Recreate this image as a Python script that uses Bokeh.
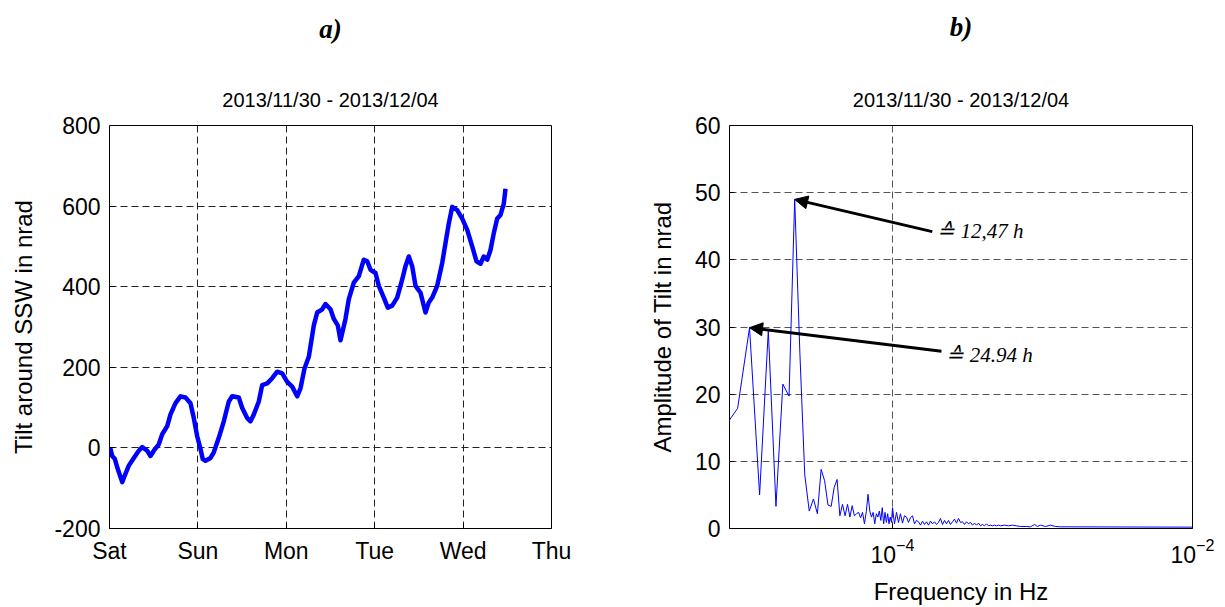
from bokeh.plotting import figure
from bokeh.layouts import row
from bokeh.models import FixedTicker, Title, Arrow, NormalHead, Label, Range1d
from bokeh.embed import file_html
from bokeh.resources import INLINE

# ---- (a) tilt time series, hours since Saturday 00:00 ----
hours = [0.2, 0.73, 1.44, 2.09, 3.45, 4.34, 5.24, 6.60, 7.95, 8.88, 10.24, 11.13,
         12.03, 13.38, 14.31, 15.67, 16.56, 17.92, 19.28, 20.63, 21.99, 22.89,
         23.81, 24.71, 25.33, 26.06, 27.42, 28.32, 29.67, 31.03, 32.39, 33.31,
         35.10, 36.03, 37.38, 38.28, 39.18, 40.53, 41.46, 42.82, 44.17, 45.53,
         46.89, 48.25, 49.60, 50.96, 51.86, 52.94, 54.11, 55.47, 56.39, 57.75,
         58.64, 60.00, 60.90, 61.98, 62.72, 64.07, 64.97, 66.33, 67.69, 69.04,
         69.97, 70.86, 72.22, 73.11, 74.47, 75.56, 76.75, 78.11, 79.47, 80.36,
         81.26, 82.18, 83.08, 84.44, 85.33, 85.79, 86.69, 87.61, 88.97, 90.33,
         91.22, 92.12, 93.04, 94.40, 95.76, 97.12, 98.47, 99.64, 100.73, 101.62,
         102.55, 103.44, 104.34, 105.26, 106.16, 107.05, 107.51]
tilt_nrad = [0, -20, -27, -48, -85, -64, -44, -25, -7, 2, -7, -20,
             -7, 9, 34, 54, 83, 111, 128, 125, 111, 74,
             29, -3, -28, -32, -25, -11, 25, 66, 115, 128,
             125, 99, 74, 66, 83, 115, 156, 160, 173, 189,
             185, 164, 152, 128, 148, 197, 226, 304, 336, 344,
             357, 344, 320, 304, 267, 320, 369, 410, 426, 467,
             463, 442, 434, 402, 373, 348, 353, 373, 418, 451,
             475, 451, 402, 385, 353, 336, 361, 373, 402, 459,
             508, 557, 598, 590, 569, 541, 500, 463, 457, 475,
             467, 491, 533, 569, 578, 606, 643]
day_ticks_h = [0, 24, 48, 72, 96, 120]
day_names = ["Sat", "Sun", "Mon", "Tue", "Wed", "Thu"]
tilt_ticks = [-200, 0, 200, 400, 600, 800]

# ---- (b) amplitude spectrum ----
freq_hz = [7.43e-6, 9.28e-6, 1.114e-5, 1.300e-5, 1.486e-5, 1.671e-5, 1.857e-5,
           2.043e-5, 2.228e-5, 2.414e-5, 2.600e-5, 2.786e-5, 2.971e-5, 3.157e-5,
           3.343e-5, 3.528e-5, 3.714e-5, 3.900e-5, 4.085e-5, 4.271e-5, 4.457e-5,
           4.642e-5, 4.828e-5, 5.014e-5, 5.200e-5, 5.385e-5, 5.571e-5, 5.757e-5,
           5.942e-5, 6.128e-5, 6.314e-5, 6.500e-5, 6.685e-5, 6.871e-5, 7.057e-5,
           7.242e-5, 7.428e-5, 7.614e-5, 7.800e-5, 7.985e-5, 8.171e-5, 8.357e-5,
           8.542e-5, 8.728e-5, 8.914e-5, 9.100e-5, 9.285e-5, 9.471e-5, 9.657e-5,
           9.842e-5,
           1.000e-4, 1.031e-4, 1.063e-4, 1.096e-4, 1.130e-4, 1.166e-4, 1.202e-4,
           1.240e-4, 1.278e-4, 1.318e-4, 1.359e-4, 1.402e-4, 1.445e-4, 1.490e-4,
           1.537e-4, 1.585e-4, 1.634e-4, 1.685e-4, 1.738e-4, 1.792e-4, 1.848e-4,
           1.905e-4, 1.965e-4, 2.026e-4, 2.089e-4, 2.154e-4, 2.222e-4, 2.291e-4,
           2.362e-4, 2.436e-4, 2.512e-4, 2.590e-4, 2.671e-4, 2.754e-4, 2.840e-4,
           2.929e-4, 3.020e-4, 3.114e-4, 3.211e-4, 3.311e-4, 3.415e-4, 3.521e-4,
           3.631e-4, 3.744e-4, 3.861e-4, 3.981e-4, 4.105e-4, 4.233e-4, 4.365e-4,
           4.501e-4, 4.642e-4, 4.786e-4, 4.935e-4, 5.089e-4, 5.248e-4, 5.580e-4,
           5.934e-4, 6.310e-4, 6.709e-4, 7.135e-4, 7.824e-4, 8.318e-4, 8.845e-4,
           9.261e-4, 9.698e-4, 1.047e-3, 1.130e-3, 1.221e-3, 1.318e-3, 1.0e-2]
amp_nrad = [14.8, 17.9, 29.9, 5.0, 29.5, 3.3, 21.5,
            19.7, 49.0, 26.0, 8.0, 2.6, 4.4, 2.2,
            8.8, 7.1, 3.5, 3.3, 6.1, 7.3, 1.9,
            3.6, 1.9, 3.6, 1.7, 3.4, 1.9, 2.2,
            2.4, 1.6, 2.4, 0.7, 2.5, 5.1, 2.6,
            1.7, 2.4, 0.7, 2.2, 1.7, 2.6, 1.2,
            3.1, 0.7, 2.4, 0.9, 2.2, 0.7, 1.7,
            0.9,
            3.1, 0.7, 2.4, 0.9, 2.2, 0.8, 1.9,
            1.7, 0.9, 1.6, 1.9, 0.7, 1.2, 1.0,
            0.5, 1.1, 0.6, 1.0, 0.5, 1.1, 0.7,
            1.0, 0.6, 0.9, 1.5, 0.6, 1.2, 0.7,
            1.2, 0.6, 1.0, 1.4, 0.8, 1.5, 0.9,
            1.0, 0.6, 1.0, 0.7, 0.9, 0.5, 0.8,
            0.5, 0.8, 0.4, 0.6, 0.4, 0.7, 0.4,
            0.5, 0.4, 0.5, 0.4, 0.5, 0.4, 0.5,
            0.4, 0.5, 0.4, 0.3, 0.3, 0.25, 0.6,
            0.3, 0.5, 0.3, 0.5, 0.3, 0.25, 0.2]
amp_ticks = [0, 10, 20, 30, 40, 50, 60]
peak_period_h = [24.94, 12.47]
peak_labels = ["\u2259 24.94 h", "\u2259 12,47 h"]
freq_ticks = [1e-4, 1e-2]

SANS = "Liberation Sans"
SERIF = "Liberation Serif"
GRID_DASH = "7 4"
DATE_TITLE = "2013/11/30 - 2013/12/04"


def style(p, grid_color, letter, gap, letter_offset=0):
    p.outline_line_color = "black"
    p.outline_line_width = 1
    p.background_fill_color = "white"
    p.border_fill_color = "white"
    for ax in (p.xaxis[0], p.yaxis[0]):
        ax.axis_line_color = None
        ax.major_tick_in = 5
        ax.major_tick_out = 0
        ax.minor_tick_in = 0
        ax.minor_tick_out = 0
        ax.major_tick_line_color = "black"
        ax.major_label_text_font = SANS
        ax.major_label_text_font_size = "23px"
        ax.major_label_text_color = "black"
        ax.axis_label_text_font = SANS
        ax.axis_label_text_font_size = "24px"
        ax.axis_label_text_font_style = "normal"
        ax.axis_label_text_color = "black"
    p.xaxis.major_label_standoff = 9
    p.yaxis.major_label_standoff = 9
    for g in (p.xgrid[0], p.ygrid[0]):
        g.grid_line_color = grid_color
        g.grid_line_dash = GRID_DASH
        g.grid_line_width = 1
    # headings, stacked upward from the frame: date span, gap, panel letter
    p.add_layout(Title(text=DATE_TITLE, align="center", text_font=SANS,
                       text_font_size="20px", text_font_style="normal",
                       text_color="black", standoff=30), "above")
    p.add_layout(Title(text=" ", text_font_size="1px", standoff=gap), "above")
    p.title.text = letter
    p.title.text_font = SERIF
    p.title.text_font_size = "27px"
    p.title.text_font_style = "bold italic"
    p.title.text_color = "black"
    p.title.align = "center"
    p.title.offset = letter_offset
    p.title.standoff = 12


# ---- left panel ----
pa = figure(width=610, height=607, output_backend="svg", toolbar_location=None,
            x_range=Range1d(0, 120), y_range=Range1d(-200, 800),
            min_border_left=109, min_border_right=59,
            min_border_top=123, min_border_bottom=78)
pa.line(hours, tilt_nrad, line_color="#0000ff", line_width=4.5, line_join="round")
pa.xaxis.ticker = FixedTicker(ticks=day_ticks_h)
pa.xaxis.major_label_overrides = {t: n for t, n in zip(day_ticks_h, day_names)}
pa.yaxis.ticker = FixedTicker(ticks=tilt_ticks)
pa.yaxis.major_label_overrides = {t: str(t) for t in tilt_ticks}
pa.yaxis.axis_label = "Tilt around SSW in nrad"
pa.yaxis.axis_label_standoff = 14
style(pa, "#222222", "a)", gap=19)

# ---- right panel ----
pb = figure(width=615, height=607, output_backend="svg", toolbar_location=None,
            x_axis_type="log", x_range=Range1d(8.19e-6, 1e-2), y_range=Range1d(0, 60),
            min_border_left=119, min_border_right=33,
            min_border_top=125, min_border_bottom=74)
pb.line(freq_hz, amp_nrad, line_color="#0000ff", line_width=1)
pb.xaxis.ticker = FixedTicker(ticks=freq_ticks)
pb.yaxis.ticker = FixedTicker(ticks=amp_ticks)
pb.xaxis.axis_label = "Frequency in Hz"
pb.yaxis.axis_label = "Amplitude of Tilt in nrad"
pb.yaxis.axis_label_standoff = 16
pb.xaxis.axis_label_standoff = 12
style(pb, "#555555", "b)", gap=21, letter_offset=14)

# arrows from each label to its spectral peak
tails = [(2.12e-4, 26.4), (1.841e-4, 44.2)]
label_pos = [(2.29e-4, 25.9), (1.99e-4, 44.3)]
for period, (tx, ty), (lx, ly), txt in zip(peak_period_h, tails, label_pos, peak_labels):
    f_peak = 1.0 / (period * 3600.0)
    i = min(range(len(freq_hz)), key=lambda k: abs(freq_hz[k] - f_peak))
    pb.add_layout(Arrow(end=NormalHead(size=13, fill_color="black", line_color="black"),
                        x_start=tx, y_start=ty, x_end=freq_hz[i], y_end=amp_nrad[i],
                        line_color="black", line_width=3))
    pb.add_layout(Label(x=lx, y=ly, text=txt, text_font=SERIF, text_font_size="21px",
                        text_font_style="italic", text_baseline="middle", text_color="black"))

layout = row(pa, pb)
open("out.html", "w").write(file_html(layout, INLINE))
